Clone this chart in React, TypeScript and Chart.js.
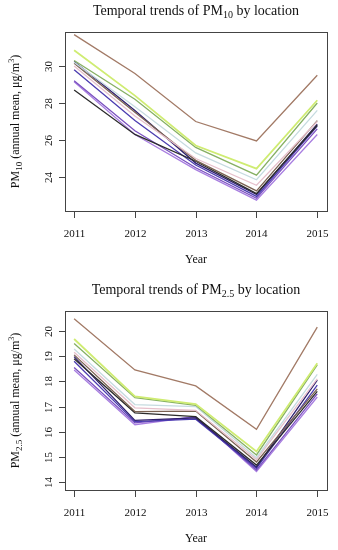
import React, { useEffect, useRef } from "react";
import { Chart, registerables } from "chart.js";

Chart.register(...registerables);

const years = [2011, 2012, 2013, 2014, 2015];

const seriesNames = [
  "Loc A", "Loc B", "Loc C", "Loc D", "Loc E", "Loc F",
  "Loc G", "Loc H", "Loc I", "Loc J", "Loc K",
];
const seriesColors = [
  "#a27a66", "#cfec72", "#86b064", "#c6dbe0", "#e6c0cc", "#7a6252",
  "#2b2b2b", "#2e1f6e", "#4b3cb0", "#7a50c0", "#a87ee0",
];

const pm10A = [31.7, 29.6, 27.0, 25.95, 29.5];
const pm10B = [30.85, 28.4, 25.7, 24.45, 28.15];
const pm10C = [30.3, 28.2, 25.6, 24.1, 28.0];
const pm10D = [30.2, 27.8, 25.3, 23.85, 27.6];
const pm10E = [30.0, 27.3, 25.0, 23.55, 27.0];
const pm10F = [30.15, 27.5, 24.9, 23.25, 27.05];
const pm10G = [28.7, 26.3, 24.85, 23.1, 26.8];
const pm10H = [30.25, 27.6, 24.75, 23.05, 26.85];
const pm10I = [29.8, 27.05, 24.65, 22.95, 26.75];
const pm10J = [29.2, 26.5, 24.5, 22.85, 26.6];
const pm10K = [29.15, 26.3, 24.4, 22.75, 26.3];

const pm25A = [20.48, 18.45, 17.82, 16.1, 20.15];
const pm25B = [19.68, 17.4, 17.1, 15.22, 18.72];
const pm25C = [19.5, 17.35, 17.05, 15.08, 18.65];
const pm25D = [19.28, 17.08, 17.0, 14.97, 18.28];
const pm25E = [19.15, 16.95, 16.85, 14.9, 18.1];
const pm25F = [19.05, 16.8, 16.82, 14.8, 17.7];
const pm25G = [18.9, 16.75, 16.6, 14.68, 17.6];
const pm25H = [18.98, 16.45, 16.55, 14.6, 18.05];
const pm25I = [18.8, 16.4, 16.5, 14.55, 17.85];
const pm25J = [18.55, 16.35, 16.58, 14.48, 17.5];
const pm25K = [18.45, 16.28, 16.6, 14.42, 17.38];

const pm10Series = [pm10A, pm10B, pm10C, pm10D, pm10E, pm10F, pm10G, pm10H, pm10I, pm10J, pm10K];
const pm25Series = [pm25A, pm25B, pm25C, pm25D, pm25E, pm25F, pm25G, pm25H, pm25I, pm25J, pm25K];

const pm10Ticks = [24, 26, 28, 30];
const pm25Ticks = [14, 15, 16, 17, 18, 19, 20];

const FONT = "'Liberation Serif', 'Times New Roman', serif";

type Part = { text: string; size: number; dy: number };

function drawRich(ctx: CanvasRenderingContext2D, parts: Part[], x: number, y: number) {
  let total = 0;
  const widths = parts.map((p) => {
    ctx.font = `${p.size}px ${FONT}`;
    const w = ctx.measureText(p.text).width;
    total += w;
    return w;
  });
  let cx = x - total / 2;
  ctx.textAlign = "left";
  ctx.textBaseline = "alphabetic";
  parts.forEach((p, i) => {
    ctx.font = `${p.size}px ${FONT}`;
    ctx.fillText(p.text, cx, y + p.dy);
    cx += widths[i];
  });
}

function makePlugin(sub: string, yTicks: number[]) {
  return {
    id: "rstyle",
    afterDraw(chart: any) {
      const ctx: CanvasRenderingContext2D = chart.ctx;
      const a = chart.chartArea;
      const xs = chart.scales.x;
      const ys = chart.scales.y;
      ctx.save();
      ctx.strokeStyle = "#444";
      ctx.fillStyle = "#111";
      ctx.lineWidth = 1;
      ctx.strokeRect(Math.round(a.left) + 0.5, Math.round(a.top) + 0.5, Math.round(a.right - a.left), Math.round(a.bottom - a.top));
      // x ticks
      ctx.font = `11px ${FONT}`;
      ctx.textAlign = "center";
      ctx.textBaseline = "alphabetic";
      years.forEach((v) => {
        const x = Math.round(xs.getPixelForValue(v)) + 0.5;
        ctx.beginPath();
        ctx.moveTo(x, a.bottom);
        ctx.lineTo(x, a.bottom + 7);
        ctx.stroke();
        ctx.fillText(String(v), x, a.bottom + 26);
      });
      // y ticks
      yTicks.forEach((v) => {
        const y = Math.round(ys.getPixelForValue(v)) + 0.5;
        ctx.beginPath();
        ctx.moveTo(a.left - 6, y);
        ctx.lineTo(a.left, y);
        ctx.stroke();
        ctx.save();
        ctx.translate(a.left - 13, y);
        ctx.rotate(-Math.PI / 2);
        ctx.font = `11px ${FONT}`;
        ctx.textAlign = "center";
        ctx.textBaseline = "alphabetic";
        ctx.fillText(String(v), 0, 0);
        ctx.restore();
      });
      const cx = (a.left + a.right) / 2;
      // title
      drawRich(ctx, [
        { text: "Temporal trends of PM", size: 14, dy: 0 },
        { text: sub, size: 10, dy: 3 },
        { text: " by location", size: 14, dy: 0 },
      ], cx, a.top - 17);
      // x title
      drawRich(ctx, [{ text: "Year", size: 12, dy: 0 }], cx, a.bottom + 52);
      // y title
      ctx.save();
      ctx.translate(19, (a.top + a.bottom) / 2);
      ctx.rotate(-Math.PI / 2);
      drawRich(ctx, [
        { text: "PM", size: 12, dy: 0 },
        { text: sub, size: 9, dy: 3 },
        { text: " (annual mean, \u03bcg/m", size: 12, dy: 0 },
        { text: "3", size: 8, dy: -5 },
        { text: ")", size: 12, dy: 0 },
      ], 0, 0);
      ctx.restore();
      ctx.restore();
    },
  };
}

function LineChart(props: {
  series: number[][];
  sub: string;
  yTicks: number[];
  yMin: number;
  yMax: number;
  padTop: number;
  padBottom: number;
}) {
  const ref = useRef<HTMLCanvasElement>(null);
  useEffect(() => {
    if (!ref.current) return;
    const chart = new Chart(ref.current, {
      type: "line",
      data: {
        datasets: props.series.map((vals, i) => ({
          label: seriesNames[i],
          data: vals.map((v, j) => ({ x: years[j], y: v })),
          borderColor: seriesColors[i],
          backgroundColor: seriesColors[i],
          borderWidth: i === 1 ? 1.8 : 1.3,
          pointRadius: 0,
          tension: 0,
          fill: false,
        })),
      },
      options: {
        responsive: false,
        animation: false,
        devicePixelRatio: 1,
        layout: { padding: { left: 65, right: 11, top: props.padTop, bottom: props.padBottom } },
        plugins: { legend: { display: false }, tooltip: { enabled: false }, title: { display: false } },
        scales: {
          x: { type: "linear", min: 2010.85, max: 2015.16, display: false },
          y: { type: "linear", min: props.yMin, max: props.yMax, display: false },
        },
      },
      plugins: [makePlugin(props.sub, props.yTicks)],
    } as any);
    return () => chart.destroy();
  }, []);
  return <canvas ref={ref} width={338} height={275} style={{ display: "block", width: 338, height: 275 }} />;
}

export default function App() {
  return (
    <div style={{ position: "absolute", left: 0, top: 0, width: 338, height: 550, background: "#fff" }}>
      <LineChart series={pm10Series} sub="10" yTicks={pm10Ticks} yMin={22.16} yMax={31.84} padTop={32} padBottom={64} />
      <LineChart series={pm25Series} sub="2.5" yTicks={pm25Ticks} yMin={13.69} yMax={20.79} padTop={36} padBottom={60} />
    </div>
  );
}
